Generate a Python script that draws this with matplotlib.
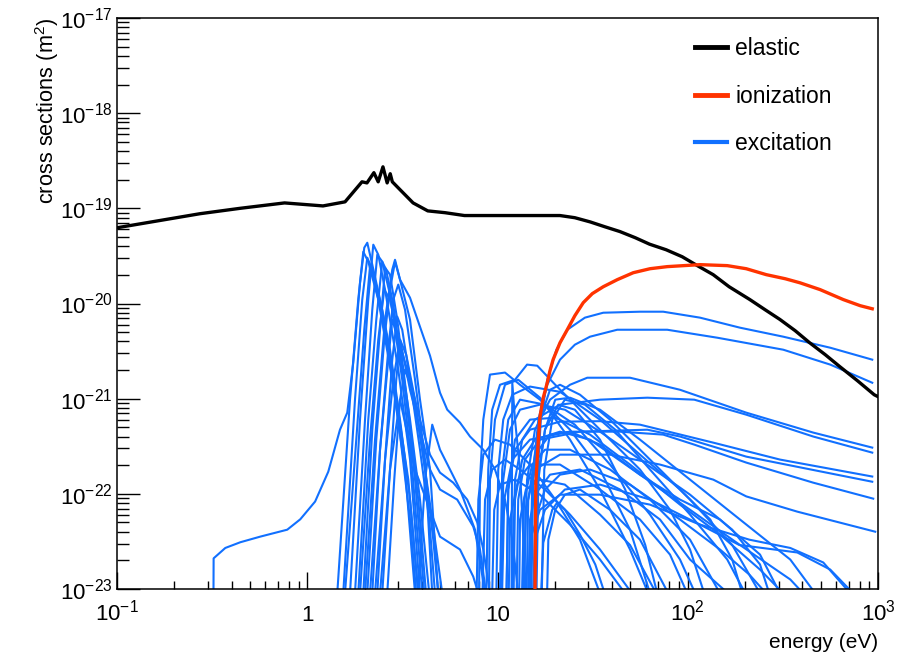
import numpy as np
import matplotlib
matplotlib.use('Agg')
import matplotlib.pyplot as plt
from matplotlib.lines import Line2D
from matplotlib.ticker import FixedLocator, FixedFormatter, LogLocator, NullFormatter

plt.rcParams['font.family'] = ['Liberation Sans', 'DejaVu Sans']
plt.rcParams['mathtext.fontset'] = 'custom'
plt.rcParams['mathtext.rm'] = 'Liberation Sans'
plt.rcParams['mathtext.it'] = 'Liberation Sans:italic'
plt.rcParams['mathtext.default'] = 'regular'

# cross sections in units of 1e-21 m^2, energies in eV
elastic_E = [0.1, 0.273, 0.443, 0.76, 1.21, 1.58, 1.94, 2.06, 2.24, 2.36, 2.5, 2.63, 2.73, 2.8,
             3.0, 3.6, 4.3, 5.3, 6.7, 10.2, 21.3, 25.5, 30.7, 36.6, 44, 53, 63, 77, 93.5, 110,
             136, 165, 212, 255, 305, 367, 435, 528, 630, 778, 955, 1000]
elastic_S = [62.5, 87.8, 100, 114, 106, 117, 190, 185, 237, 190, 273, 185, 231, 190,
             165, 114, 94, 90, 84, 84, 84, 79.7, 72, 64.1, 57, 49.1, 42, 36.7, 31.0, 25.6,
             20.1, 15, 11, 8.6, 6.8, 5.18, 3.9, 2.9, 2.17, 1.55, 1.1, 1.05]

ion_E = [15.6, 15.9, 16.4, 16.72, 17.4, 18.26, 18.88, 19.6, 21.31, 23.26, 25.5, 28.23, 31.5,
         35.96, 42.6, 51.7, 63.33, 78.0, 116, 161.3, 203, 258.6, 325.5, 389, 496, 656.7,
         806.8, 932.8]
ion_S = [0.001, 0.131, 0.371, 0.647, 1.024, 1.47, 1.97, 2.57, 3.87, 5.3, 7.44, 10.2, 12.7,
         15.0, 17.8, 21.06, 23.2, 24.4, 25.6, 25.0, 23.2, 20.1, 18.2, 16.5, 14.0, 11.0,
         9.48, 8.8]

# vibrational excitations (resonance region around 2-3 eV)
vib_E = [
    [0.32, 0.322, 0.371, 0.445, 0.566, 0.785, 0.919, 1.10, 1.29, 1.486, 1.623, 1.745, 1.894, 1.994, 2.068, 2.197, 2.413, 2.723, 3.074, 3.469, 3.832],
    [1.438, 1.678, 1.854, 1.970, 2.093, 2.362, 2.798, 3.266, 3.686],
    [1.546, 1.782, 1.946, 2.068, 2.197, 2.479, 2.893, 3.397, 3.832],
    [1.678, 1.894, 2.093, 2.224, 2.362, 2.564, 3.009, 3.469, 3.914],
    [1.782, 2.012, 2.197, 2.334, 2.479, 2.723, 3.157, 3.563, 4.022],
    [1.854, 2.093, 2.306, 2.479, 2.596, 2.833, 3.266, 3.686, 4.121],
    [1.970, 2.197, 2.413, 2.564, 2.723, 2.973, 3.397, 3.832, 4.21],
    [2.068, 2.306, 2.540, 2.723, 2.893, 3.074, 3.469, 3.914, 4.418, 4.88],
    [2.197, 2.413, 2.666, 2.833, 3.009, 3.266, 3.686, 4.159, 4.539],
    [2.334, 2.564, 2.798, 2.973, 3.157, 3.469, 3.914, 4.377, 4.694],
    [2.479, 2.723, 2.937, 3.074, 3.313, 3.686, 4.159, 4.595, 4.88],
    [2.633, 2.866, 3.074, 3.266, 3.563, 4.022, 4.539, 5.124],
    [1.579, 1.81, 1.994, 2.137, 2.271, 2.564, 3.009, 3.469, 3.74],
    [1.894, 2.137, 2.362, 2.540, 2.723, 3.009, 3.469, 3.914, 4.377],
    [2.012, 2.271, 2.564, 2.798, 2.893, 3.074, 3.469, 3.832, 4.418, 4.987, 5.443, 6.353, 7.171, 8.42, 9.70, 10.95, 11.96, 12.85],
    [2.137, 2.413, 2.666, 2.798, 3.074, 3.469, 3.914, 4.418, 4.987, 5.852, 6.93, 7.83, 8.42, 9.13],
    [2.271, 2.564, 2.833, 3.074, 3.469, 3.914, 4.418, 4.987, 6.14, 7.456, 8.09, 8.71],
    [3.832, 4.159, 4.539, 4.987, 5.628, 6.353, 7.617, 8.60],
    [2.413, 2.723, 3.074, 3.686, 4.418, 4.987, 6.353, 7.456, 7.93],
]
vib_S = [
    [0.001, 0.021, 0.027, 0.031, 0.0355, 0.042, 0.054, 0.083, 0.171, 0.472, 0.713, 2.39, 16.5, 38.6, 43.5, 25.6, 11, 3.27, 0.602, 0.087, 0.009],
    [0.009, 0.976, 11, 35, 27.5, 11, 1.58, 0.18, 0.009],
    [0.009, 0.976, 11, 30.3, 22.7, 8.6, 1.24, 0.141, 0.009],
    [0.009, 0.602, 11, 41.5, 32.6, 14, 2.02, 0.229, 0.009],
    [0.009, 0.602, 8.6, 32.6, 27.5, 12.4, 1.58, 0.18, 0.009],
    [0.009, 0.602, 6.76, 27.5, 22.7, 9.71, 1.24, 0.141, 0.009],
    [0.009, 0.472, 5.3, 23.8, 20.1, 6.76, 0.766, 0.087, 0.009],
    [0.009, 0.371, 4.17, 14, 27.5, 17.8, 6.76, 0.976, 0.18, 0.009],
    [0.009, 0.291, 3.27, 11, 15.8, 8.6, 1.58, 0.229, 0.009],
    [0.009, 0.229, 2.57, 7.27, 5.3, 1.58, 0.291, 0.0537, 0.009],
    [0.009, 0.18, 1.58, 4.17, 2.9, 0.976, 0.18, 0.033, 0.009],
    [0.009, 0.141, 0.976, 2.02, 1.24, 0.291, 0.0537, 0.009],
    [0.009, 0.371, 5.3, 24.4, 15.8, 5.3, 0.602, 0.0537, 0.009],
    [0.009, 0.371, 4.17, 14, 11, 4.17, 0.602, 0.087, 0.009],
    [0.009, 0.371, 6.76, 22.7, 28.8, 17.8, 11.5, 6.44, 2.83, 1.155, 0.766, 0.56, 0.40, 0.291, 0.18, 0.087, 0.033, 0.009],
    [0.009, 0.291, 2.57, 6.76, 3.69, 1.58, 0.602, 0.258, 0.167, 0.131, 0.087, 0.05, 0.026, 0.009],
    [0.009, 0.229, 1.58, 4.17, 1.24, 0.472, 0.18, 0.111, 0.087, 0.0453, 0.026, 0.009],
    [0.009, 0.141, 0.533, 0.291, 0.18, 0.111, 0.042, 0.009],
    [0.009, 0.18, 0.976, 0.18, 0.068, 0.0355, 0.026, 0.0135, 0.009],
]

# electronic excitations (thresholds above ~7 eV)
elec_E = [
    [15.6, 16.18, 16.9, 18.26, 20.4, 23.26, 28.8, 35.96, 56.11, 74.3, 116, 188.2, 317.7, 561, 932.8],
    [14.5, 15.23, 16.4, 18.26, 21.31, 25.5, 30.64, 42.6, 78.0, 143, 317.7, 561, 932.8],
    [13.1, 14.3, 15.74, 18.88, 24.05, 29.63, 49.72, 91.06, 203, 456.7, 932.8],
    [11.6, 12.36, 13.49, 15.74, 21.31, 34.58, 61.3, 108.2, 203, 456.7, 932.8],
    [10.95, 11.39, 12.36, 14.82, 21.31, 34.58, 56.11, 136.2, 305.5, 932.8],
    [12.36, 12.85, 13.94, 16.72, 27.14, 61.3, 91.06, 203, 932.8],
    [10.31, 10.85, 11.96, 14.82, 24.05, 44.05, 74.3, 108.2, 203, 456.7, 944],
    [13.49, 14.1, 15.74, 21.31, 39.03, 71.48, 136.2, 203, 376.4, 967],
    [7.93, 8.09, 8.42, 9.13, 10.95, 13.13, 16.72, 24.05, 34.58, 49.72, 63.33],
    [8.60, 8.94, 9.38, 10.31, 12.36, 14.3, 16.18, 20.12, 27.14, 39.03, 56.11, 80.68, 102.8, 122.1],
    [9.70, 10.09, 10.72, 11.96, 14.82, 21.31, 34.58, 56.11, 91.06, 131.3, 171.3, 193.4],
    [10.31, 10.72, 11.63, 13.13, 16.72, 22.6, 34.58, 56.11, 102.8, 171.3, 239.8, 268.2],
    [10.95, 11.39, 12.36, 14.82, 20.12, 30.64, 49.72, 91.06, 147.7, 239.8, 317.7],
    [11.96, 12.36, 13.49, 15.74, 21.31, 30.64, 56.11, 102.8, 188.2, 345.8, 404.7],
    [13.13, 13.8, 15.23, 17.77, 24.05, 39.03, 63.33, 102.8, 147.7],
    [8.09, 8.60, 9.38, 10.95, 13.13, 17.77, 24.05, 34.58, 50.9],
    [9.13, 9.61, 10.31, 12.36, 16.72, 24.05, 34.58, 46.9],
    [14.3, 14.82, 15.74, 18.88, 27.14, 44.05, 71.48, 102.8, 163],
    [7.617, 7.93, 8.42, 9.70, 11.63, 14.82, 20.12, 27.14, 34.58],
    [15.23, 15.74, 17.77, 21.31, 30.64, 49.72, 91.06, 147.7, 210.5, 258.6],
    [14.82, 15.74, 17.77, 22.6, 34.58, 63.33, 116, 186.6, 376.4, 561, 741],
    [13.94, 14.82, 16.72, 21.31, 34.58, 63.33, 116, 210.5, 345.8, 515.6, 715],
    [11.25, 11.63, 12.85, 14.82, 21.31, 34.58, 56.11, 80.68, 99.4],
    [12.85, 13.13, 14.1, 16.72, 22.6, 34.58, 49.72, 68.3],
    [17.77, 18.5, 20.12, 22.6, 27.14, 39.03, 56.11, 79.0],
    [16.18, 17.40, 19.40, 20.6, 22.6, 27.14, 32.66, 36.6],
    [14.82, 15.4, 16.72, 18.88, 21.31, 27.14, 39.03, 63.33, 102.8, 171.3, 239.8],
    [15.74, 16.4, 17.77, 20.12, 24.05, 34.58, 56.11, 102.8, 188.2, 345.8, 468],
    [11.81, 11.96, 12.36, 13.13, 14.1],
    [15.4, 16.18, 17.77, 20.86, 25.5, 34.58, 46.9, 59.8, 69.1],
    [16.72, 17.61, 19.40, 22.6, 28.8, 41.6, 63.33, 102.8, 161.3, 200.6],
    [10.09, 10.59, 11.39, 13.13, 17.77, 25.5, 39.03, 63.33, 91.06, 109.5],
    [8.94, 9.13, 9.70, 10.95, 12.85, 16.72, 24.05, 34.58, 49.72, 62.0],
    [13.94, 14.51, 15.74, 18.88, 24.05, 34.58, 56.11, 91.06, 147.7, 239.8, 305.5],
]
elec_S = [
    [0.001, 0.141, 0.602, 1.58, 3.27, 5.3, 7.1, 8.0, 8.2, 8.2, 7.1, 5.57, 4.48, 3.43, 2.57],
    [0.001, 0.141, 0.602, 1.40, 2.57, 3.69, 4.48, 5.3, 5.3, 4.37, 3.27, 2.28, 1.47],
    [0.001, 0.141, 0.472, 0.976, 1.40, 1.66, 1.66, 1.24, 0.713, 0.44, 0.306],
    [0.001, 0.141, 0.371, 0.602, 0.865, 0.976, 1.024, 0.976, 0.679, 0.40, 0.271],
    [0.001, 0.111, 0.291, 0.472, 0.573, 0.58, 0.533, 0.345, 0.229, 0.152],
    [0.001, 0.087, 0.229, 0.371, 0.45, 0.472, 0.40, 0.246, 0.134],
    [0.001, 0.087, 0.229, 0.371, 0.45, 0.45, 0.419, 0.329, 0.213, 0.131, 0.089],
    [0.001, 0.068, 0.18, 0.258, 0.258, 0.203, 0.141, 0.094, 0.065, 0.040],
    [0.001, 0.141, 0.602, 1.79, 1.88, 1.40, 0.976, 0.472, 0.18, 0.042, 0.009],
    [0.001, 0.18, 0.766, 1.40, 1.58, 2.28, 2.22, 1.40, 0.766, 0.371, 0.18, 0.068, 0.026, 0.009],
    [0.001, 0.18, 0.602, 1.10, 1.34, 1.18, 0.602, 0.258, 0.111, 0.0537, 0.0204, 0.009],
    [0.001, 0.141, 0.472, 0.766, 0.865, 0.766, 0.45, 0.229, 0.098, 0.042, 0.0181, 0.009],
    [0.001, 0.111, 0.371, 0.602, 0.632, 0.419, 0.203, 0.077, 0.0373, 0.016, 0.009],
    [0.001, 0.087, 0.229, 0.371, 0.45, 0.371, 0.159, 0.068, 0.029, 0.0126, 0.009],
    [0.001, 0.087, 0.203, 0.291, 0.291, 0.18, 0.087, 0.033, 0.009],
    [0.001, 0.087, 0.18, 0.229, 0.18, 0.111, 0.0605, 0.026, 0.009],
    [0.001, 0.068, 0.125, 0.141, 0.098, 0.0475, 0.0204, 0.009],
    [0.001, 0.0537, 0.098, 0.159, 0.18, 0.111, 0.0537, 0.0204, 0.009],
    [0.001, 0.087, 0.258, 0.371, 0.329, 0.203, 0.087, 0.033, 0.009],
    [0.001, 0.0537, 0.111, 0.159, 0.18, 0.125, 0.0537, 0.026, 0.0142, 0.009],
    [0.001, 0.033, 0.068, 0.111, 0.125, 0.087, 0.0475, 0.029, 0.0242, 0.016, 0.009],
    [0.001, 0.033, 0.068, 0.098, 0.098, 0.077, 0.0475, 0.033, 0.027, 0.019, 0.009],
    [0.001, 0.0537, 0.141, 0.203, 0.203, 0.111, 0.0537, 0.023, 0.009],
    [0.001, 0.0537, 0.111, 0.141, 0.125, 0.0605, 0.029, 0.009],
    [0.001, 0.033, 0.068, 0.098, 0.111, 0.068, 0.033, 0.009],
    [0.001, 0.0306, 0.068, 0.081, 0.068, 0.0373, 0.0181, 0.009],
    [0.001, 0.141, 0.602, 1.24, 1.40, 1.10, 0.602, 0.229, 0.087, 0.029, 0.009],
    [0.001, 0.141, 0.472, 0.976, 1.024, 0.766, 0.371, 0.141, 0.0537, 0.0204, 0.009],
    [0.001, 1.47, 0.602, 0.18, 0.009],
    [0.001, 0.141, 0.472, 0.865, 0.766, 0.371, 0.111, 0.029, 0.009],
    [0.001, 0.18, 0.602, 0.976, 0.865, 0.472, 0.18, 0.0605, 0.0204, 0.009],
    [0.001, 0.18, 0.602, 0.976, 0.865, 0.533, 0.203, 0.0605, 0.0204, 0.009],
    [0.001, 0.141, 0.602, 1.40, 1.58, 1.024, 0.371, 0.111, 0.026, 0.009],
    [0.001, 0.087, 0.258, 0.419, 0.45, 0.329, 0.159, 0.087, 0.0537, 0.023, 0.009],
]

x_ticks = [0.1, 1, 10, 100, 1000]
x_labels = ['$10^{-1}$', '1', '10', '$10^{2}$', '$10^{3}$']
y_ticks = [1e-23, 1e-22, 1e-21, 1e-20, 1e-19, 1e-18, 1e-17]
y_labels = ['$10^{-23}$', '$10^{-22}$', '$10^{-21}$', '$10^{-20}$', '$10^{-19}$', '$10^{-18}$', '$10^{-17}$']

blue = '#1170ff'
red = '#ff3300'

fig = plt.figure(figsize=(8.97, 6.57), dpi=100)
ax = fig.add_axes([117/897, 1 - 589/657, 761/897, 571/657])

for E, S in zip(vib_E + elec_E, vib_S + elec_S):
    ax.plot(E, np.array(S) * 1e-21, color=blue, lw=1.5, zorder=2)
ax.plot(elastic_E, np.array(elastic_S) * 1e-21, color='black', lw=2.4, zorder=3)
ax.plot(ion_E, np.array(ion_S) * 1e-21, color=red, lw=2.4, zorder=4)

ax.set_xscale('log')
ax.set_yscale('log')
ax.set_xlim(0.1, 1000)
ax.set_ylim(1e-23, 1e-17)

ax.xaxis.set_major_locator(FixedLocator(x_ticks))
ax.xaxis.set_major_formatter(FixedFormatter(x_labels))
ax.xaxis.set_minor_locator(LogLocator(base=10, subs=np.arange(2, 10)))
ax.xaxis.set_minor_formatter(NullFormatter())
ax.yaxis.set_major_locator(FixedLocator(y_ticks))
ax.yaxis.set_major_formatter(FixedFormatter(y_labels))
ax.yaxis.set_minor_locator(LogLocator(base=10, subs=np.arange(2, 10)))
ax.yaxis.set_minor_formatter(NullFormatter())

ax.tick_params(axis='both', which='both', direction='in', top=False, right=False,
               width=1.0, labelsize=16)
ax.tick_params(axis='y', which='major', length=16.5, pad=3)
ax.tick_params(axis='y', which='minor', length=8.5)
ax.tick_params(axis='x', which='major', length=12, pad=23)
ax.tick_params(axis='x', which='minor', length=6)
for lab in ax.get_xticklabels():
    lab.set_verticalalignment('baseline')
for sp in ax.spines.values():
    sp.set_linewidth(1.1)

ax.set_ylabel('cross sections (m$^{2}$)', fontsize=15.7, loc='top', labelpad=-1)
ax.set_xlabel('energy (eV)', fontsize=15, loc='right', labelpad=5)

handles = [Line2D([], [], color='black', lw=3.5),
           Line2D([], [], color=red, lw=3.5),
           Line2D([], [], color=blue, lw=3.0)]
ax.legend(handles, ['elastic', 'ionization', 'excitation'], loc='upper left',
          bbox_to_anchor=(0.76, 0.966), frameon=False, fontsize=16.5,
          handlelength=1.4, handletextpad=0.35, labelspacing=1.06,
          borderpad=0, borderaxespad=0)

fig.savefig('out.png', dpi=100)
